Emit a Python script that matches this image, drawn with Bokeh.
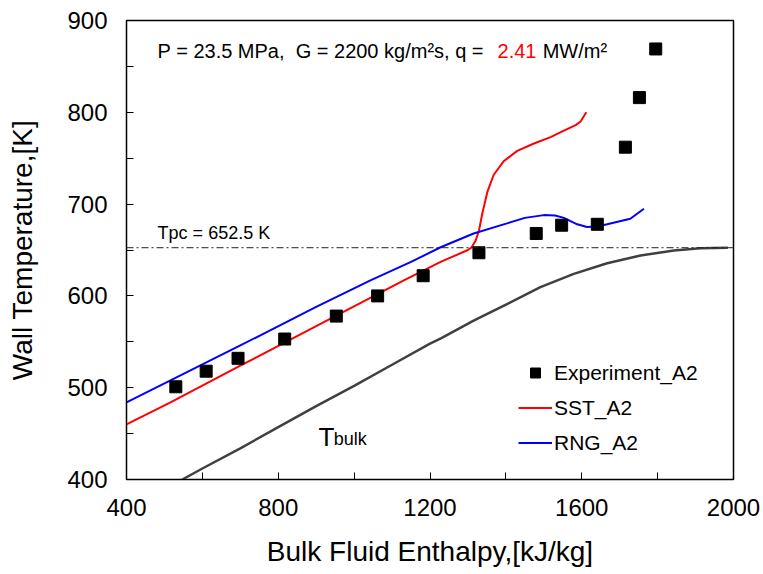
from bokeh.plotting import figure
from bokeh.models import FixedTicker, Label, Span, Legend, LegendItem
from bokeh.embed import file_html
from bokeh.resources import INLINE

# ---------------- data ----------------
exp_h = [530, 610, 694, 817, 953, 1062, 1182, 1329, 1480, 1547, 1641, 1715, 1752, 1795]
exp_T = [501, 518, 532, 553, 578, 600, 622, 647, 668, 677, 678, 762, 816, 869]

sst_h = [400, 516, 700, 900, 1131, 1228, 1300, 1310, 1320, 1329, 1338, 1351, 1368, 1395,
         1430, 1474, 1518, 1553, 1584, 1597, 1612]
sst_T = [460, 484, 524, 567, 617, 637, 650, 653, 660, 671, 690, 713, 732, 747,
         758, 766, 773, 780, 786, 790, 800]

rng_h = [400, 516, 700, 900, 1043, 1150, 1228, 1315, 1403, 1450, 1500, 1530, 1553, 1588,
         1614, 1640, 1667, 1728, 1764]
rng_T = [484, 508, 546, 588, 617, 637, 653, 668, 679, 685, 688, 687.5, 685, 678,
         675, 675.5, 678, 684, 695]

bulk_h = [547, 600, 700, 800, 900, 1000, 1100, 1200, 1230, 1315, 1403, 1491, 1579, 1667,
          1755, 1843, 1913, 1985]
bulk_T = [400, 412, 434, 457, 480, 502, 525, 548, 554, 573, 591, 609.5, 624, 635.6,
          644, 649.5, 652, 652.5]

tpc = 652.5
x_major = [400, 800, 1200, 1600, 2000]
x_minor = [600, 1000, 1400, 1800]
y_major = [400, 500, 600, 700, 800, 900]
y_minor = [450, 550, 650, 750, 850]

FONT = "Liberation Sans"

p = figure(width=763, height=574, x_range=(400, 2000), y_range=(400, 900),
           output_backend="svg", toolbar_location=None,
           min_border_left=126, min_border_right=30, min_border_top=20, min_border_bottom=95)
p.background_fill_color = "white"
p.border_fill_color = "white"
p.outline_line_color = "black"
p.outline_line_width = 1.5
p.grid.visible = False

for ax in (p.xaxis[0], p.yaxis[0]):
    ax.major_tick_in = 7
    ax.major_tick_out = 0
    ax.minor_tick_in = 7
    ax.minor_tick_out = 0
    ax.axis_line_color = "black"
    ax.major_tick_line_color = "black"
    ax.minor_tick_line_color = "black"
    ax.major_label_text_font = FONT
    ax.major_label_text_font_size = "24px"
    ax.major_label_text_color = "black"
    ax.axis_label_text_font = FONT
    ax.axis_label_text_font_style = "normal"
    ax.axis_label_text_font_size = "28px"
    ax.axis_label_text_color = "black"

p.xaxis[0].ticker = FixedTicker(ticks=x_major, minor_ticks=x_minor)
p.yaxis[0].ticker = FixedTicker(ticks=y_major, minor_ticks=y_minor)
p.xaxis[0].axis_label = "Bulk Fluid Enthalpy,[kJ/kg]"
p.yaxis[0].axis_label = "Wall Temperature,[K]"
p.xaxis[0].major_label_standoff = 19
p.yaxis[0].major_label_standoff = 19
p.xaxis[0].axis_label_standoff = 17
p.yaxis[0].axis_label_standoff = 26

# Tpc reference line
p.add_layout(Span(location=tpc, dimension="width", line_color="#222222",
                  line_width=1, line_dash="7 3 2 3"))

# curves
r_bulk = p.line(bulk_h, bulk_T, line_color="#404040", line_width=2.5)
r_sst = p.line(sst_h, sst_T, line_color="#ff0000", line_width=2)
r_rng = p.line(rng_h, rng_T, line_color="#0000ff", line_width=2)
r_exp = p.scatter(exp_h, exp_T, marker="square", size=12, fill_color="black",
                  line_color="black")

legend = Legend(items=[LegendItem(label="Experiment_A2", renderers=[r_exp]),
                       LegendItem(label="SST_A2", renderers=[r_sst]),
                       LegendItem(label="RNG_A2", renderers=[r_rng])],
                location=(392, 24), padding=0, margin=0, spacing=10,
                glyph_width=34, glyph_height=25, label_height=25, label_standoff=2,
                border_line_color=None, background_fill_alpha=0,
                label_text_font=FONT, label_text_font_size="21px",
                label_text_color="black")
p.add_layout(legend)

# annotations
p.add_layout(Label(x=482, y=867, text="P = 23.5 MPa,\u00a0 G = 2200 kg/m\u00b2s, q =",
                   text_font=FONT, text_font_size="20px", text_baseline="middle",
                   text_color="black"))
p.add_layout(Label(x=1378, y=867, text="2.41", text_font=FONT, text_font_size="20px",
                   text_baseline="middle", text_color="#ff0000"))
p.add_layout(Label(x=1497, y=867, text="MW/m\u00b2", text_font=FONT, text_font_size="20px",
                   text_baseline="middle", text_color="black"))
p.add_layout(Label(x=482, y=669, text="Tpc = 652.5 K", text_font=FONT,
                   text_font_size="18px", text_baseline="middle", text_color="black"))
p.add_layout(Label(x=906, y=446, text="T", text_font=FONT, text_font_size="26px",
                   text_baseline="alphabetic", text_color="black"))
p.add_layout(Label(x=946, y=444, text="bulk", text_font=FONT, text_font_size="18px",
                   text_baseline="alphabetic", text_color="black"))

open("out.html", "w").write(file_html(p, INLINE))
